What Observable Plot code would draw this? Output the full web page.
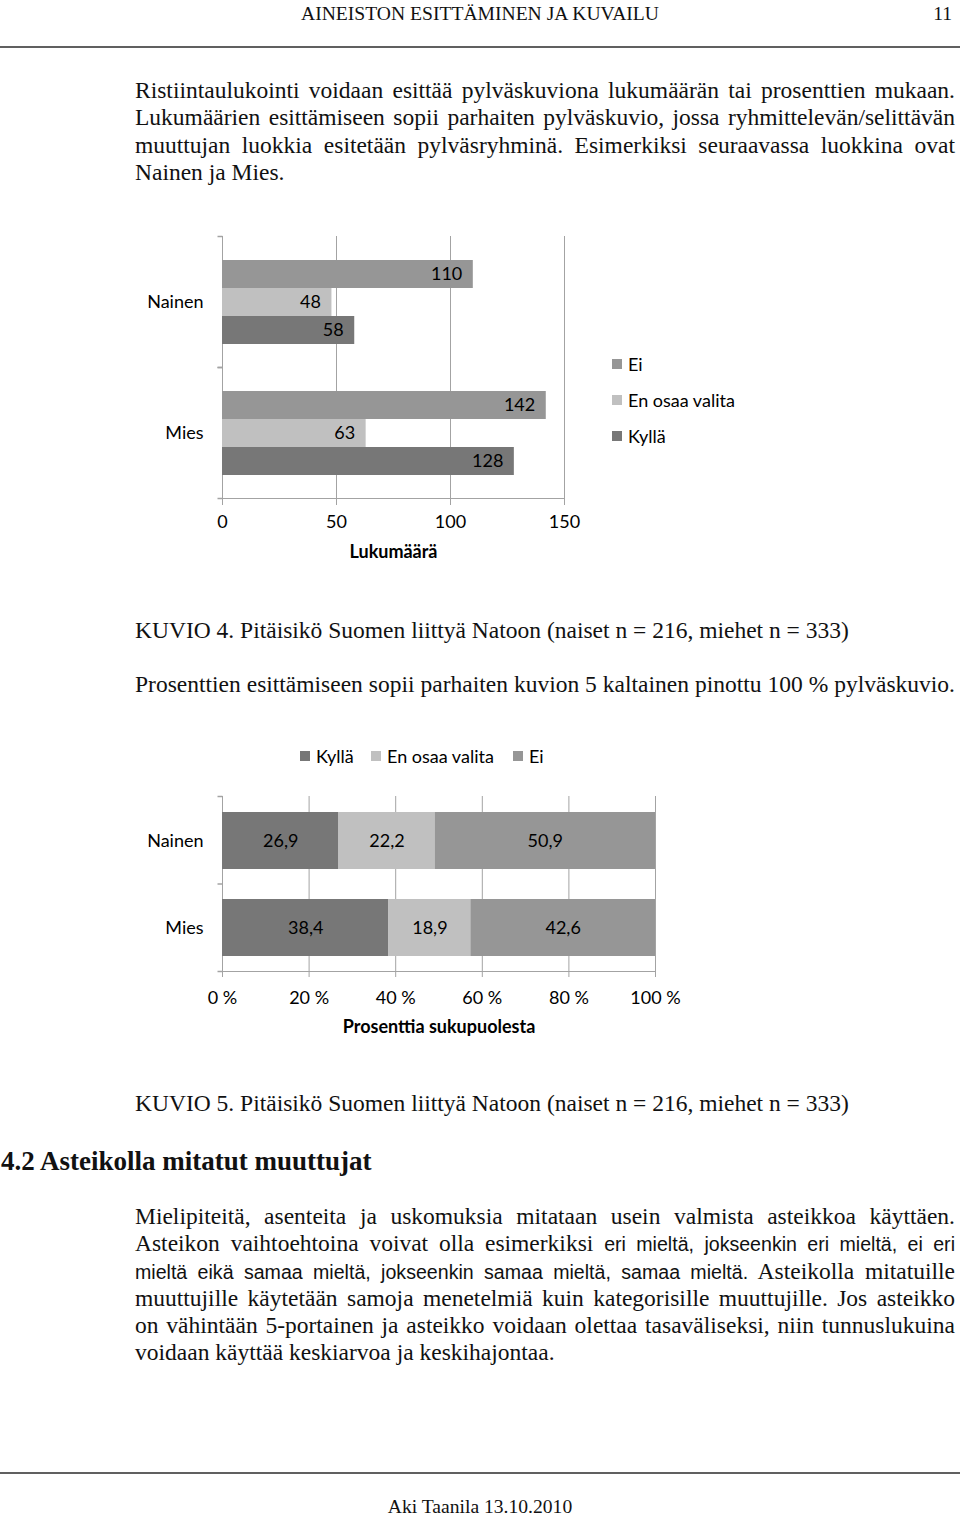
<!DOCTYPE html>
<html><head><meta charset="utf-8">
<script src="https://cdn.jsdelivr.net/npm/d3@7"></script>
<script src="https://cdn.jsdelivr.net/npm/@observablehq/plot@0.6"></script>
<style>
html,body{margin:0;padding:0;background:#fff;}
body{width:960px;height:1516px;position:relative;overflow:hidden;font-family:"Liberation Serif","Times New Roman",serif;color:#111;}
.t{position:absolute;white-space:nowrap;font-size:23.5px;line-height:27.3px;}
.hdr{font-size:19.6px;line-height:22px;}
.j{position:absolute;left:135px;width:820px;font-size:23.5px;}
.j div{text-align:justify;text-align-last:justify;height:27.3px;line-height:27.3px;white-space:nowrap;}
.j div.last{text-align-last:left;}
.sans{font-family:"Liberation Sans",Arial,sans-serif;font-size:19.6px;}
.rule{position:absolute;left:0;width:960px;height:2px;background:#606060;}
.chart{position:absolute;left:0;}
.chart svg text{fill:#000;}
.chart g[aria-label$="axis label"]{font-weight:bold;}
.lg{position:absolute;font-family:Lato,sans-serif;font-size:18px;color:#000;height:22px;line-height:22px;display:flex;align-items:center;white-space:nowrap;}
.sw{display:inline-block;width:10px;height:10px;margin-right:6px;}
</style></head>
<body>
<div class="t hdr" style="left:0;width:960px;text-align:center;top:3px;">AINEISTON ESITTÄMINEN JA KUVAILU</div>
<div class="t hdr" style="right:8px;top:3px;">11</div>
<div class="rule" style="top:46px;"></div>

<div class="j" style="top:77px;">
<div>Ristiintaulukointi voidaan esittää pylväskuviona lukumäärän tai prosenttien mukaan.</div>
<div>Lukumäärien esittämiseen sopii parhaiten pylväskuvio, jossa ryhmittelevän/selittävän</div>
<div>muuttujan luokkia esitetään pylväsryhminä. Esimerkiksi seuraavassa luokkina ovat</div>
<div class="last">Nainen ja Mies.</div>
</div>

<div id="chart1" class="chart" style="top:215px;"></div>
<div id="legend1"></div>

<div class="t" style="left:135px;top:617px;">KUVIO 4. Pitäisikö Suomen liittyä Natoon (naiset n = 216, miehet n = 333)</div>
<div class="j" style="top:671px;"><div>Prosenttien esittämiseen sopii parhaiten kuvion 5 kaltainen pinottu 100 % pylväskuvio.</div></div>

<div id="legend2"></div>
<div id="chart2" class="chart" style="top:780px;"></div>

<div class="t" style="left:135px;top:1090px;">KUVIO 5. Pitäisikö Suomen liittyä Natoon (naiset n = 216, miehet n = 333)</div>
<div class="t" style="left:1px;top:1146px;font-weight:bold;font-size:27px;line-height:31px;">4.2 Asteikolla mitatut muuttujat</div>

<div class="j" style="top:1203px;">
<div>Mielipiteitä, asenteita ja uskomuksia mitataan usein valmista asteikkoa käyttäen.</div>
<div>Asteikon vaihtoehtoina voivat olla esimerkiksi <span class="sans">eri mieltä, jokseenkin eri mieltä, ei eri</span></div>
<div><span class="sans">mieltä eikä samaa mieltä, jokseenkin samaa mieltä, samaa mieltä.</span> Asteikolla mitatuille</div>
<div>muuttujille käytetään samoja menetelmiä kuin kategorisille muuttujille. Jos asteikko</div>
<div>on vähintään 5-portainen ja asteikko voidaan olettaa tasaväliseksi, niin tunnuslukuina</div>
<div class="last">voidaan käyttää keskiarvoa ja keskihajontaa.</div>
</div>

<div class="rule" style="top:1472px;"></div>
<div class="t hdr" style="left:0;width:960px;text-align:center;top:1496px;">Aki Taanila 13.10.2010</div>

<script>
// ---- Data: KUVIO 4 (lukumäärät) ----
const groups = ["Nainen", "Mies"];
const countAnswers = ["Ei", "En osaa valita", "Kyllä"];
const nainenCounts = [110, 48, 58];
const miesCounts = [142, 63, 128];
const countTicks = [0, 50, 100, 150];

// ---- Data: KUVIO 5 (prosentit) ----
const pctAnswers = ["Kyllä", "En osaa valita", "Ei"];
const nainenPct = [26.9, 22.2, 50.9];
const miesPct = [38.4, 18.9, 42.6];
const pctTicks = [0, 20, 40, 60, 80, 100];

const shade = {"Ei": "#969696", "En osaa valita": "#c0c0c0", "Kyllä": "#777777"};
const lineGray = "#a3a3a3";

const leftTick = {draw(ctx, size) { const r = Math.sqrt(size / Math.PI); ctx.moveTo(-r, 0); ctx.lineTo(0, 0); }};

const countRows = groups.flatMap((g, i) => countAnswers.map((a, j) => ({group: g, answer: a, value: [nainenCounts, miesCounts][i][j]})));
const pctRows = groups.flatMap((g, i) => pctAnswers.map((a, j) => ({group: g, answer: a, value: [nainenPct, miesPct][i][j]})));
const fmt = v => v.toFixed(1).replace(".", ",");

const chart1 = Plot.plot({
  width: 960, height: 360,
  marginLeft: 222, marginRight: 396, marginTop: 20, marginBottom: 77,
  style: {fontFamily: "Lato, sans-serif", fontSize: "18px", color: lineGray, background: "transparent", overflow: "visible"},
  x: {domain: [0, 150], ticks: countTicks, tickSize: 7, tickPadding: 10, line: true, label: "Lukumäärä", labelAnchor: "center", labelArrow: "none", labelOffset: 59},
  y: {domain: countAnswers, axis: null, paddingInner: 0, paddingOuter: 0.79},
  fy: {domain: groups, padding: 0, axis: "left", tickSize: 0, tickPadding: 19, label: null},
  color: {domain: countAnswers, range: countAnswers.map(a => shade[a])},
  marks: [
    Plot.gridX({ticks: countTicks, stroke: lineGray, strokeOpacity: 1}),
    Plot.ruleX([0], {stroke: lineGray}),
    Plot.dot([0], {frameAnchor: "top-left", symbol: leftTick, r: 5, stroke: lineGray}),
    Plot.dot([0], {frameAnchor: "bottom-left", symbol: leftTick, r: 5, stroke: lineGray}),
    Plot.barX(countRows, {x: "value", y: "answer", fy: "group", fill: "answer"}),
    Plot.text(countRows, {x: "value", y: "answer", fy: "group", text: d => String(d.value), textAnchor: "end", dx: -11, fontSize: 18})
  ]
});
document.getElementById("chart1").appendChild(chart1);

const chart2 = Plot.plot({
  width: 960, height: 270,
  marginLeft: 222, marginRight: 305, marginTop: 16, marginBottom: 79,
  style: {fontFamily: "Lato, sans-serif", fontSize: "18px", color: lineGray, background: "transparent", overflow: "visible"},
  x: {percent: true, domain: [0, 100], ticks: pctTicks, tickFormat: d => `${d} %`, tickSize: 6, tickPadding: 14, line: true, label: "Prosenttia sukupuolesta", labelAnchor: "center", labelArrow: "none", labelOffset: 61},
  y: {domain: groups, paddingInner: 0.35, paddingOuter: 0.175, tickSize: 0, tickPadding: 19, label: null},
  color: {domain: pctAnswers, range: pctAnswers.map(a => shade[a])},
  marks: [
    Plot.gridX({ticks: pctTicks, stroke: lineGray, strokeOpacity: 1}),
    Plot.dot([0], {frameAnchor: "top-left", symbol: leftTick, r: 5, stroke: lineGray}),
    Plot.dot([0], {frameAnchor: "left", symbol: leftTick, r: 5, stroke: lineGray}),
    Plot.dot([0], {frameAnchor: "bottom-left", symbol: leftTick, r: 5, stroke: lineGray}),
    Plot.barX(pctRows, Plot.stackX({x: "value", y: "group", fill: "answer", offset: "normalize"})),
    Plot.text(pctRows, Plot.stackX({x: "value", y: "group", offset: "normalize", text: d => fmt(d.value), fontSize: 18}))
  ]
});
document.getElementById("chart2").appendChild(chart2);

// ---- Legends ----
function legendItem(parent, label, left, top) {
  const el = document.createElement("div");
  el.className = "lg";
  el.style.left = left + "px";
  el.style.top = top + "px";
  const sw = document.createElement("span");
  sw.className = "sw";
  sw.style.background = shade[label];
  el.appendChild(sw);
  el.appendChild(document.createTextNode(label));
  parent.appendChild(el);
}
const l1 = document.getElementById("legend1");
countAnswers.forEach((a, i) => legendItem(l1, a, 612, 353 + i * 36));
const l2 = document.getElementById("legend2");
const l2x = [300, 371, 513];
pctAnswers.forEach((a, i) => legendItem(l2, a, l2x[i], 745));
</script>
</body></html>
